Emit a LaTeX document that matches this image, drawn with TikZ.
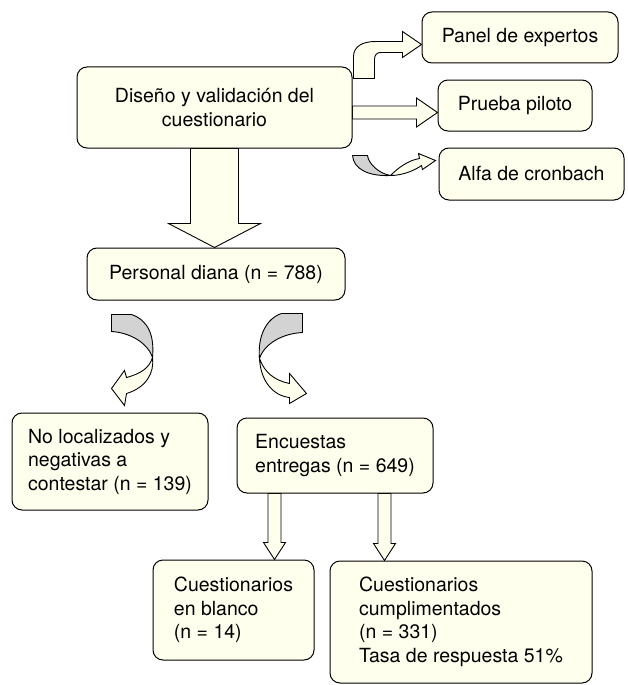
\documentclass[tikz,border=0pt]{standalone}
\usepackage{fontspec}
\setmainfont{TeX Gyre Heros}
\usetikzlibrary{calc,backgrounds}
\definecolor{crema}{RGB}{255,255,238}
\definecolor{gris}{RGB}{211,211,211}
\tikzset{
  caja/.style={draw, rounded corners=10pt, fill=crema, line width=1pt,
    inner sep=2pt, align=left, font=\fontsize{19.5}{23.5}\selectfont},
  flecha/.style={draw, fill=crema, line width=0.9pt, line join=miter},
  dorso/.style={draw, fill=gris, line width=0.9pt}
}
\begin{document}
\begin{tikzpicture}[x=1pt,y=-1pt]
      \useasboundingbox (0,0) rectangle (627,685);
      % cajas
      \node[caja, align=center, minimum width=275pt, minimum height=81pt] (diseno) at (214.5,107.5) {Diseño y validación del\\cuestionario};
      \node[caja, minimum width=196pt, minimum height=51pt] (panel) at (520,37.5) {Panel de expertos};
      \node[caja, minimum width=154pt, minimum height=51pt] (prueba) at (515,105.5) {Prueba piloto};
      \node[caja, minimum width=185pt, minimum height=52pt] (alfa) at (531.5,174) {Alfa de cronbach};
      \node[caja, minimum width=258pt, minimum height=52pt] (personal) at (216,274) {Personal diana (n = 788)};
      \node[caja, minimum width=196pt, minimum height=97pt] (nolocal) at (110,461.5) {No localizados y\\negativas a\\contestar (n = 139)};
      \node[caja, minimum width=196pt, minimum height=75pt] (encuestas) at (335,455.5) {Encuestas\\entregas (n = 649)};
      \node[caja, minimum width=161pt, minimum height=100pt] (blanco) at (233.5,610) {Cuestionarios\\en blanco\\(n = 14)};
      \node[caja, minimum width=262pt, minimum height=122pt] (cumpl) at (461,622) {Cuestionarios\\cumplimentados\\(n = 331)\\Tasa de respuesta 51\%};
      \begin{scope}[on background layer]
        % flecha grande
        \draw[flecha] ($(diseno.south)+(-24,0)$) -- ($(diseno.south |- personal.north)+(-24,-24)$) -- ++(-22,0)
          -- (diseno.south |- personal.north) -- ++(46,-24) -- ++(-22,0) -- ($(diseno.south)+(24,0)$) -- cycle;
        % prueba piloto
        \coordinate (p0) at ($(diseno.east)+(0,5)$);
        \draw[flecha] ($(p0)+(0,-6.5)$) -- ($(p0 -| prueba.west)+(-21,-6.5)$) -- ++(0,-8) -- (p0 -| prueba.west)
          -- ++(-21,14.5) -- ++(0,-8) -- ($(p0)+(0,6.5)$) -- cycle;
        % panel de expertos
        \begin{scope}[shift={(diseno.north east)}]
          \draw[flecha] (1,12) -- (1,-10) .. controls (1,-20) and (10,-25) .. (23,-25) -- (50,-25) -- (50,-35)
            -- (69,-22) -- (50,-9) -- (50,-14) -- (28,-14) .. controls (24,-14) and (22,-11) .. (22,-7) -- (22,12) -- cycle;
        \end{scope}
        % alfa de cronbach
        \begin{scope}[shift={(diseno.south east)}]
          \draw[dorso] (0,7) -- (15,7) .. controls (16,15) and (26,25) .. (38,27) .. controls (15,28) and (1,20) .. (0,7) -- cycle;
          \draw[flecha] (38,27) .. controls (50,27) and (62,22) .. (69,17) -- (70,21) -- (83,12) -- (66,5) -- (67,10)
            .. controls (55,12) and (45,20) .. (38,27) -- cycle;
        \end{scope}
        % bajo personal diana
        \begin{scope}[shift={(personal.south west)}]
          \draw[dorso] (25,14) -- (45,14) .. controls (62,20) and (68,35) .. (66,57) .. controls (61,42) and (43,32) .. (25,31) -- cycle;
          \draw[flecha] (66,57) .. controls (68,72) and (60,87) .. (40,93) -- (38,105) -- (25,88) -- (38,70) -- (40,77)
            .. controls (55,73) and (63,67) .. (66,57) -- cycle;
          \draw[dorso] (195,13) -- (216,13) -- (216,32) .. controls (196,33) and (178,43) .. (173,58)
            .. controls (171,35) and (180,18) .. (195,13) -- cycle;
          \draw[flecha] (173,58) .. controls (174,80) and (186,95) .. (203,97) -- (203,103) -- (220,93) -- (203,73) -- (203,83)
            .. controls (188,80) and (178,72) .. (173,58) -- cycle;
        \end{scope}
        % encuestas
        \coordinate (e1) at ($(encuestas.south west)+(38,0)$);
        \coordinate (e2) at ($(encuestas.south east)+(-49,0)$);
        \foreach \c/\t in {e1/blanco, e2/cumpl}
          \draw[flecha] ($(\c)+(-6.5,0)$) -- ($(\c |- \t.north)+(-6.5,-17)$) -- ++(-4.5,0) -- (\c |- \t.north)
            -- ++(11,-17) -- ++(-4.5,0) -- ($(\c)+(6.5,0)$) -- cycle;
      \end{scope}
    \end{tikzpicture}
\end{document}
